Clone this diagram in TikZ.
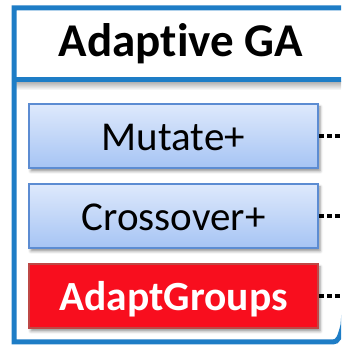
\documentclass[tikz,border=0pt]{standalone}
\usepackage{fontspec}
\setmainfont{Carlito}[Ligatures={NoCommon}]
\usetikzlibrary{shadows.blur}

\definecolor{frameblue}{RGB}{30,125,198}
\definecolor{boxedge}{RGB}{92,140,210}
\definecolor{boxtop}{RGB}{222,233,252}
\definecolor{boxbottom}{RGB}{166,196,244}
\definecolor{alertred}{RGB}{248,14,30}
\definecolor{alertedge}{RGB}{190,72,70}

\tikzset{
  frameline/.style={draw=frameblue, line width=5pt},
  opbox/.style={rectangle, minimum width=289pt, minimum height=64pt,
    inner sep=0pt, line width=1.5pt, text height=30pt, text depth=0pt,
    font=\fontsize{41}{49}\selectfont,
    blur shadow={shadow xshift=2pt, shadow yshift=-3pt, shadow blur radius=3pt, shadow opacity=45}},
  bluebox/.style={opbox, draw=boxedge, top color=boxtop, bottom color=boxbottom},
  redbox/.style={opbox, draw=alertedge, fill=alertred, text=white,
    font=\fontsize{41.5}{49}\selectfont\bfseries},
  link/.style={draw=black, line width=4pt, dash pattern=on 5pt off 3pt},
}

\begin{document}
\begin{tikzpicture}[x=1pt, y=1pt]
  \useasboundingbox (0,0) rectangle (341,345);
  \clip (0,0) rectangle (341,345);

  % soft shadow under the header divider
  \shade[top color=black!30, bottom color=white] (16,255) rectangle (350,263);

  % outer frame with header divider
  \draw[frameline] (360,337) -- (14,337) -- (14,3) -- (333,3)
    .. controls (338,3) and (340,8) .. (343,20) -- (346,60);
  \draw[frameline] (14,265) -- (360,265);

  % title
  \node[anchor=base, font=\fontsize{47}{56}\selectfont\bfseries, inner sep=0pt]
    (title) at (181,288) {Adaptive GA};

  % operator boxes
  \node[bluebox] (mutate) at (173.5,209) {Mutate+};
  \node[bluebox] (cross)  at (173.5,129) {Crossover+};
  \node[redbox]  (adapt)  at (173.5,49)  {AdaptGroups};

  % dotted links leaving the frame
  \coordinate (mutate-out) at (345,209);
  \coordinate (cross-out)  at (345,129);
  \coordinate (adapt-out)  at (345,49);
  \draw[link] (mutate.east) -- (mutate-out);
  \draw[link] (cross.east)  -- (cross-out);
  \draw[link] (adapt.east)  -- (adapt-out);
\end{tikzpicture}
\end{document}
